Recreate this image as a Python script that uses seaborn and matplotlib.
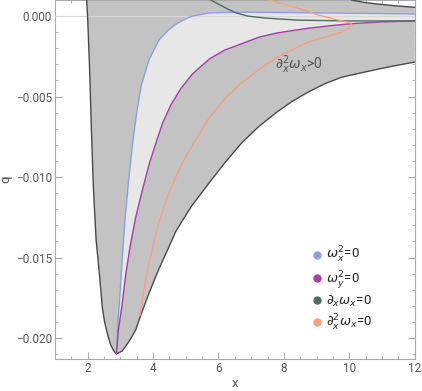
import numpy as np
import pandas as pd
import matplotlib
matplotlib.use("Agg")
import matplotlib.pyplot as plt
from matplotlib.lines import Line2D
from matplotlib.ticker import MultipleLocator, FuncFormatter
import seaborn as sns

# outer boundary (left branch from top down to the minimum, then right branch)
edge_x = [1.97, 2.00, 2.06, 2.12, 2.18, 2.26, 2.36, 2.45, 2.52, 2.60, 2.70, 2.80, 2.88,
          2.97, 3.06, 3.17, 3.30, 3.47, 3.63, 3.88, 4.18, 4.45, 4.69, 4.93, 5.18, 5.44,
          5.70, 6.20, 6.70, 7.21, 7.76, 8.25, 8.76, 9.25, 9.76, 10.30, 10.80, 11.35,
          11.88, 12.00]
edge_q = [0.0010, 0.0000, -0.0032, -0.0073, -0.0108, -0.0139, -0.0160, -0.0181, -0.0190,
          -0.0197, -0.0204, -0.0208, -0.0210, -0.0209, -0.0208, -0.0205, -0.0201, -0.0195,
          -0.01855, -0.0172, -0.0157, -0.0145, -0.0134, -0.0126, -0.0118, -0.0111,
          -0.0104, -0.0091, -0.0079, -0.0069, -0.0060, -0.0053, -0.0047, -0.0042,
          -0.0038, -0.00355, -0.00333, -0.0031, -0.0029, -0.00285]

# upper right boundary of the shaded region
top_x = [10.06, 10.45, 10.85, 11.35, 11.90, 12.00]
top_q = [0.0010, 0.00085, 0.00075, 0.00065, 0.00056, 0.00055]

# omega_x^2 = 0
blue_x = [2.88, 2.93, 3.00, 3.06, 3.15, 3.25, 3.37, 3.50, 3.64, 3.88, 4.18, 4.45, 4.70,
          4.95, 5.20, 5.73, 6.70, 8.00, 10.00, 12.00]
blue_q = [-0.0210, -0.0190, -0.0170, -0.0150, -0.0125, -0.0103, -0.0080, -0.0060, -0.0043,
          -0.0027, -0.0015, -0.0009, -0.0005, -0.00022, 0.0000, 0.0002, 0.00024, 0.00022,
          0.00018, 0.00013]

# omega_y^2 = 0
purple_x = [2.88, 2.94, 3.05, 3.17, 3.30, 3.47, 3.65, 3.88, 4.10, 4.30, 4.55, 4.85, 5.20,
            5.73, 6.20, 6.73, 7.25, 7.76, 8.25, 8.76, 9.40, 10.06, 11.00, 12.00]
purple_q = [-0.0210, -0.0195, -0.0180, -0.0160, -0.0143, -0.0125, -0.0110, -0.0092, -0.0078,
            -0.0066, -0.0055, -0.0045, -0.0036, -0.00265, -0.0021, -0.0017, -0.0013,
            -0.00106, -0.0009, -0.00075, -0.0006, -0.00047, -0.00036, -0.0003]

# d_x omega_x = 0
green_x = [5.76, 6.06, 6.30, 6.55, 6.90, 7.42, 8.42, 9.94, 11.88, 12.00]
green_q = [0.0010, 0.00068, 0.00042, 0.00019, 0.0000, -0.00012, -0.00025, -0.0003, -0.0003,
           -0.0003]

# d_x^2 omega_x = 0
orange_x = [3.60, 3.72, 3.88, 4.03, 4.18, 4.43, 4.69, 4.93, 5.18, 5.45, 5.72, 6.25, 6.73,
            7.25, 7.76, 8.25, 8.76, 9.25, 9.76, 10.00, 10.10, 10.00, 9.60, 9.00, 8.42, 7.90,
            7.55]
orange_q = [-0.0186, -0.0170, -0.0153, -0.0140, -0.0128, -0.0113, -0.0100, -0.0090, -0.0081,
            -0.0072, -0.0063, -0.0050, -0.0041, -0.0033, -0.0026, -0.0021, -0.0016, -0.0013,
            -0.0010, -0.0007, -0.00056, -0.0004, -0.00022, 0.0001, 0.0005, 0.0008, 0.0010]

legend_labels = [r"$\omega_x^2$=0", r"$\omega_y^2$=0", r"$\partial_x\omega_x$=0",
                 r"$\partial_x^2\omega_x$=0"]
colors = ["#8c9fe4", "#a53fa8", "#4b6e5e", "#f6a07c"]

sns.set_theme(style="ticks")
plt.rcParams["font.family"] = ["Roboto", "DejaVu Sans"]
plt.rcParams["mathtext.fontset"] = "dejavusans"

fig = plt.figure(figsize=(4.22, 3.91), dpi=100)
ax = fig.add_axes([0.130, 0.082, 0.853, 0.918])

# shaded region: boundary curve + right edge + upper right boundary
reg_x = edge_x + top_x[::-1]
reg_q = edge_q + top_q[::-1]
ax.fill(reg_x, reg_q, color="#c3c3c3", lw=0, zorder=1)

# light region between the blue and purple curves
ax.fill(blue_x + purple_x[::-1], blue_q + purple_q[::-1], color="#e7e7e7", lw=0, zorder=2)

ax.axhline(0, color="#d8d8d8", lw=0.8, zorder=3)

curves = [
    (edge_x, edge_q, "#4a4a4a"),
    (top_x, top_q, "#4a4a4a"),
    (blue_x, blue_q, colors[0]),
    (purple_x, purple_q, colors[1]),
    (green_x, green_q, colors[2]),
    (orange_x, orange_q, colors[3]),
]
for cx, cq, c in curves:
    df = pd.DataFrame({"x": cx, "q": cq})
    sns.lineplot(data=df, x="x", y="q", sort=False, estimator=None, color=c, lw=1.0,
                 ax=ax, legend=False, zorder=4)

ax.text(8.45, -0.003, r"$\partial_x^2\omega_x$>0", color="#555555", fontsize=10,
        ha="center", va="center", zorder=5)

handles = [Line2D([], [], marker="o", ls="none", color=c, markersize=5) for c in colors]
ax.legend(handles, legend_labels, loc="center left", bbox_to_anchor=(0.68, 0.195),
          frameon=False, fontsize=9.5, handletextpad=0.2, labelspacing=0.25,
          handlelength=1.0, borderpad=0.3)

ax.set_xlim(1, 12)
ax.set_ylim(-0.0213, 0.001)
ax.xaxis.set_major_locator(MultipleLocator(2))
ax.xaxis.set_minor_locator(MultipleLocator(0.5))
ax.yaxis.set_major_locator(MultipleLocator(0.005))
ax.yaxis.set_minor_locator(MultipleLocator(0.001))
ax.yaxis.set_major_formatter(FuncFormatter(lambda v, p: f"{v:.3f}".replace("-", "\u2212")))
ax.tick_params(which="both", direction="in", top=True, right=True, colors="#aaaaaa",
               labelcolor="#555555", labelsize=8.5, pad=2)
ax.tick_params(which="major", length=5, width=0.8)
ax.tick_params(which="minor", length=2.5, width=0.6)
for s in ax.spines.values():
    s.set_color("#aaaaaa")
    s.set_linewidth(0.8)
ax.set_xlabel("x", color="#555555", fontsize=9.5, labelpad=2)
ax.set_ylabel("q", color="#555555", fontsize=9.5)
ax.yaxis.set_label_coords(-0.118, 0.5)

fig.savefig("out.png", dpi=100)
